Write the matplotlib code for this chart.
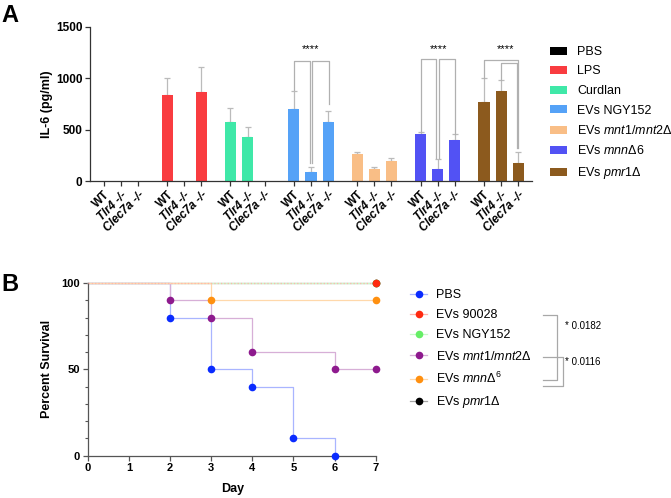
import matplotlib.pyplot as plt
import numpy as np
from matplotlib.lines import Line2D
from matplotlib.ticker import MultipleLocator
from matplotlib.colors import to_rgb

plt.rcParams['font.family'] = ['Liberation Sans', 'DejaVu Sans']
plt.rcParams['mathtext.fontset'] = 'custom'
plt.rcParams['mathtext.rm'] = 'Liberation Sans'
plt.rcParams['mathtext.it'] = 'Liberation Sans:italic'
plt.rcParams['mathtext.bf'] = 'Liberation Sans:bold'

# ---- panel A data (IL-6, pg/ml)
groups = ['PBS', 'LPS', 'Curdlan', 'EVs NGY152', r'EVs $\mathit{mnt1/mnt2Δ}$',
          r'EVs $\mathit{mnnΔ6}$', r'EVs $\mathit{pmr1Δ}$']
genotypes = ['WT', 'Tlr4 -/-', 'Clec7a -/-']
group_colors = ['#000000', '#f93c40', '#3fe8a8', '#55a2f7', '#f9be86', '#5252f4', '#8c5a1e']
il6_mean = [[0, 0, 0],
            [838, 0, 870],
            [578, 432, 0],
            [704, 95, 578],
            [266, 118, 201],
            [457, 122, 405],
            [768, 875, 181]]
il6_sd = [[0, 0, 0],
          [170, 0, 238],
          [132, 96, 0],
          [172, 41, 102],
          [22, 21, 23],
          [24, 97, 52],
          [235, 110, 105]]

# ---- panel B data (percent survival)
surv_labels = ['PBS', 'EVs 90028', 'EVs NGY152', r'EVs $\mathit{mnt1/mnt2}$Δ',
               r'EVs $\mathit{mnn}$Δ$^6$', r'EVs $\mathit{pmr1}$Δ']
surv_colors = ['#0a2bff', '#ff2a10', '#66ee66', '#8e1a8e', '#ff9010', '#000000']
pbs_days, pbs_surv = [0, 2, 3, 4, 5, 6], [100, 80, 50, 40, 10, 0]
ev90028_days, ev90028_surv = [0, 7], [100, 100]
ngy_days, ngy_surv = [0, 7], [100, 100]
mnt_days, mnt_surv = [0, 2, 3, 4, 6, 7], [100, 90, 80, 60, 50, 50]
mnn_days, mnn_surv = [0, 3, 7], [100, 90, 90]
pmr_days, pmr_surv = [0, 7], [100, 100]


def light(c, f=0.35):
    r = np.array(to_rgb(c))
    return tuple(f * r + (1 - f))


fig = plt.figure(figsize=(6.71, 4.98), dpi=100)
W, H = 671.0, 498.0

# ================= panel A
axA = fig.add_axes([0.1341, 0.6359, 0.6587, 0.3099])
gap = 3.7
xpos_all = []
for g in range(len(groups)):
    xs = g * gap + np.arange(3)
    xpos_all += list(xs)
    means = np.array(il6_mean[g])
    sds = np.array(il6_sd[g])
    axA.bar(xs, means, width=0.65, color=group_colors[g], label=groups[g], zorder=2)
    m = means > 0
    if m.any():
        axA.errorbar(xs[m], means[m], yerr=[np.zeros(m.sum()), sds[m]], fmt='none',
                     ecolor='#bbbbbb', elinewidth=0.9, capsize=2.5, capthick=0.9, zorder=1)

axA.set_xlim(-0.8, 6 * gap + 2.8)
axA.set_ylim(0, 1500)
axA.set_yticks([0, 500, 1000, 1500])
axA.set_xticks(xpos_all)
axA.set_xticklabels(genotypes * len(groups), rotation=45, ha='right',
                    rotation_mode='anchor', fontsize=8.5, fontweight='bold')
for i, lbl in enumerate(axA.get_xticklabels()):
    if i % 3 != 0:
        lbl.set_fontstyle('italic')
for lbl in axA.get_yticklabels():
    lbl.set_fontweight('bold')
    lbl.set_fontsize(8.5)
axA.spines['top'].set_visible(False)
axA.spines['right'].set_visible(False)
for s in ['left', 'bottom']:
    axA.spines[s].set_color('#333333')
    axA.spines[s].set_linewidth(0.9)
axA.tick_params(axis='both', color='#333333', width=0.9, length=3.5, pad=2)
axA.set_ylabel('IL-6 (pg/ml)', fontsize=9, fontweight='bold')
axA.yaxis.set_label_coords(-0.084, 0.5)


def bracket(ax, x1, x2, ytop, y1, y2):
    ax.plot([x1, x1, x2, x2], [y1, ytop, ytop, y2], color='#b0b0b0', lw=0.9, zorder=3)


b = 3 * gap
bracket(axA, b, b + 0.92, 1172, 887, 175)
bracket(axA, b + 1.06, b + 2.05, 1172, 175, 751)
axA.text(b + 1.0, 1290, '****', ha='center', va='center', fontsize=8)
b = 5 * gap
bracket(axA, b, b + 0.92, 1186, 482, 230)
bracket(axA, b + 1.08, b + 2.0, 1186, 230, 457)
axA.text(b + 1.07, 1290, '****', ha='center', va='center', fontsize=8)
b = 6 * gap
bracket(axA, b, b + 2.0, 1179, 1007, 320)
bracket(axA, b + 1.0, b + 1.92, 1153, 988, 320)
axA.text(b + 1.23, 1290, '****', ha='center', va='center', fontsize=8)

axA.legend(loc='upper left', bbox_to_anchor=(550 / W, 1 - 46 / H), bbox_transform=fig.transFigure,
           frameon=False, fontsize=9, handlelength=1.36, handleheight=0.6,
           handletextpad=0.8, labelspacing=0.6, borderpad=0, borderaxespad=0)

# ================= panel B
axB = fig.add_axes([0.1307, 0.0849, 0.4292, 0.3468])
series = [(pbs_days, pbs_surv), (ev90028_days, ev90028_surv), (ngy_days, ngy_surv),
          (mnt_days, mnt_surv), (mnn_days, mnn_surv), (pmr_days, pmr_surv)]
order = [5, 2, 0, 3, 4, 1]
for z, k in enumerate(order):
    d, s = series[k]
    ls = ':' if k == 1 else '-'
    axB.step(d, s, where='post', color=light(surv_colors[k]), lw=0.9, ls=ls,
             clip_on=False, zorder=2 + (k == 1))
    axB.plot(d[1:], s[1:], 'o', color=surv_colors[k], ms=5.5, mec='none',
             clip_on=False, zorder=4 + z)
for k in range(6):
    axB.plot([], [], color=light(surv_colors[k]), lw=0.9, marker='o', ms=5.5,
             markerfacecolor=surv_colors[k], markeredgecolor='none',
             label=surv_labels[k])
handles, labels = axB.get_legend_handles_labels()
leg = axB.legend(handles, labels, loc='upper left', bbox_to_anchor=(410 / W, 1 - 289 / H),
                 bbox_transform=fig.transFigure, frameon=False, fontsize=9, numpoints=1,
                 handlelength=1.36, handletextpad=0.75, labelspacing=0.66,
                 borderpad=0, borderaxespad=0)

axB.set_xlim(0, 7)
axB.set_ylim(0, 100)
axB.set_xticks(range(8))
axB.set_yticks([0, 50, 100])
axB.yaxis.set_minor_locator(MultipleLocator(10))
axB.spines['top'].set_visible(False)
axB.spines['right'].set_visible(False)
for s in ['left', 'bottom']:
    axB.spines[s].set_color('#555555')
    axB.spines[s].set_linewidth(0.9)
axB.tick_params(axis='both', which='major', color='#555555', width=0.9, length=3.5,
                labelsize=8, pad=2)
axB.tick_params(axis='y', which='minor', color='#555555', width=0.8, length=2.5)
for lbl in axB.get_xticklabels() + axB.get_yticklabels():
    lbl.set_fontweight('bold')
axB.set_ylabel('Percent Survival', fontsize=9, fontweight='bold')
axB.yaxis.set_label_coords(-0.119, 0.5)
axB.set_xlabel('Day', fontsize=9, fontweight='bold')
axB.xaxis.set_label_coords(0.505, -0.16)


def fig_bracket(x0, x1, y0, y1):
    xs = np.array([x0, x1, x1, x0]) / W
    ys = 1 - np.array([y0, y0, y1, y1]) / H
    fig.add_artist(Line2D(xs, ys, transform=fig.transFigure, color='#a8a8a8', lw=0.9))


fig_bracket(543, 556.5, 315, 380)
fig_bracket(543, 562.5, 356.7, 385.7)
fig.text(565 / W, 1 - 326 / H, '* 0.0182', fontsize=7, va='center')
fig.text(565 / W, 1 - 361.5 / H, '* 0.0116', fontsize=7, va='center')

# panel letters
fig.text(0.0015, 1 - 21.7 / H, 'A', fontsize=17, fontweight='bold', va='baseline')
fig.text(0.0015, 1 - 291 / H, 'B', fontsize=17, fontweight='bold', va='baseline')

fig.savefig('out.png', dpi=100)
